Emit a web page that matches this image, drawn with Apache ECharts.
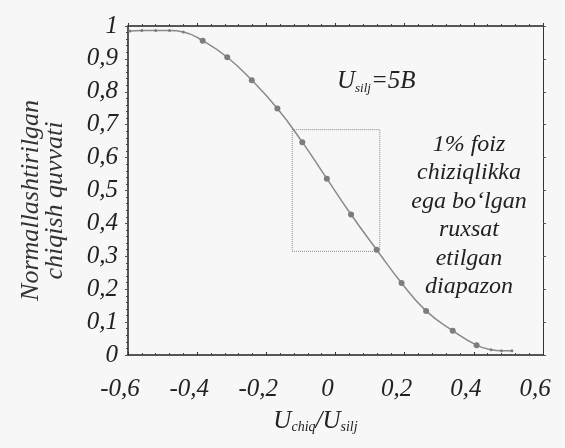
<!DOCTYPE html>
<html>
<head>
<meta charset="utf-8">
<script src="https://cdn.jsdelivr.net/npm/echarts@6/dist/echarts.min.js"></script>
<style>html,body{margin:0;padding:0;background:#f7f7f7}#c{width:565px;height:448px}</style>
</head>
<body>
<div id="c"></div>
<script>
// Data
const xValues = [-0.595, -0.56, -0.52, -0.48, -0.44, -0.384, -0.313, -0.242, -0.168, -0.096, -0.025, 0.045, 0.119, 0.191, 0.262, 0.339, 0.408, 0.45, 0.48, 0.51];
const yValues = [0.985, 0.986, 0.986, 0.986, 0.982, 0.955, 0.905, 0.835, 0.749, 0.647, 0.536, 0.427, 0.320, 0.219, 0.134, 0.074, 0.030, 0.016, 0.013, 0.013];
const boxX = [-0.125, 0.128];
const boxY = [0.315, 0.685];
const xTicks = [-0.6, -0.4, -0.2, 0, 0.2, 0.4, 0.6];
const yTicks = [0, 0.1, 0.2, 0.3, 0.4, 0.5, 0.6, 0.7, 0.8, 0.9, 1];

const FONT = 'Liberation Serif';
const fmt = v => String(Math.round(v * 10) / 10).replace('.', ',');
const chart = echarts.init(document.getElementById('c'));
const axisBase = {
  axisLine: { show: true, onZero: false, lineStyle: { color: '#222', width: 1.5 } },
  axisTick: { show: true, inside: true, length: 3, lineStyle: { color: '#333' } },
  minorTick: { show: true, splitNumber: 5, length: 2, lineStyle: { color: '#444' } },
  splitLine: { show: false }
};
chart.setOption({
  backgroundColor: '#f7f7f7',
  animation: false,
  grid: { left: 128, right: 22, top: 26, bottom: 93, containLabel: false, outerBoundsMode: 'none' },
  xAxis: [
    Object.assign({}, axisBase, {
      type: 'value', min: xTicks[0], max: xTicks[xTicks.length - 1], interval: 0.2,
      position: 'bottom',
      axisLabel: { formatter: fmt, fontFamily: FONT, fontStyle: 'italic', fontSize: 25, color: '#222', margin: 22, padding: [0, 16, 0, 0] },
      name: '{u|U}{s|chiq}{u|/U}{s|silj}', nameLocation: 'middle', nameGap: 53,
      nameTextStyle: { padding: [0, 40, 0, 0], rich: {
        u: { fontFamily: FONT, fontStyle: 'italic', fontSize: 25, color: '#222' },
        s: { fontFamily: FONT, fontStyle: 'italic', fontSize: 14, color: '#222', verticalAlign: 'bottom', padding: [12, 0, 0, 0] }
      } }
    }),
    Object.assign({}, axisBase, {
      type: 'value', min: xTicks[0], max: xTicks[xTicks.length - 1], interval: 0.2,
      position: 'top', axisLabel: { show: false },
      axisTick: { show: true, inside: false, length: 3, lineStyle: { color: '#333' } }
    })
  ],
  yAxis: [
    Object.assign({}, axisBase, {
      type: 'value', min: yTicks[0], max: yTicks[yTicks.length - 1], interval: 0.1,
      position: 'left',
      axisTick: { show: true, inside: false, length: 3, lineStyle: { color: '#555' } },
      axisLabel: { formatter: fmt, fontFamily: FONT, fontStyle: 'italic', fontSize: 25, color: '#222', margin: 10 },
      name: 'Normallashtirilgan\nchiqish quvvati', nameLocation: 'middle', nameGap: 61, nameRotate: 90,
      nameTextStyle: { fontFamily: FONT, fontStyle: 'italic', fontSize: 26, color: '#333', lineHeight: 24, padding: [0, 20, 0, 0] }
    }),
    Object.assign({}, axisBase, {
      type: 'value', min: yTicks[0], max: yTicks[yTicks.length - 1], interval: 0.1,
      position: 'right', axisLabel: { show: false },
      axisLine: { show: true, onZero: false, lineStyle: { color: '#333', width: 1 } },
      axisTick: { show: true, inside: false, length: 3, lineStyle: { color: '#555' } },
      minorTick: { show: false }
    })
  ],
  series: [{
    type: 'line',
    data: xValues.map((x, i) => [x, yValues[i]]),
    smooth: true,
    symbol: 'circle',
    symbolSize: (v, p) => (p.dataIndex >= 5 && p.dataIndex <= 16) ? 6 : 3,
    lineStyle: { color: '#8a8a8a', width: 1.5 },
    itemStyle: { color: '#7d7d7d' },
    markArea: {
      silent: true,
      itemStyle: { color: 'rgba(0,0,0,0)', borderColor: '#888', borderWidth: 1, borderType: 'dotted' },
      data: [[{ coord: [boxX[0], boxY[1]] }, { coord: [boxX[1], boxY[0]] }]]
    }
  }],
  graphic: [
    { type: 'text', x: 337, y: 68, style: {
      text: '{u|U}{s|silj}{u|=5B}', rich: {
        u: { fontFamily: FONT, fontStyle: 'italic', fontSize: 25, fill: '#222' },
        s: { fontFamily: FONT, fontStyle: 'italic', fontSize: 13, fill: '#222', padding: [14, 0, 0, 0] }
      } } },
    { type: 'text', x: 469, y: 130, style: {
      text: '1% foiz\nchiziqlikka\nega bo‘lgan\nruxsat\netilgan\ndiapazon',
      align: 'center', fontFamily: FONT, fontStyle: 'italic', fontSize: 24, lineHeight: 28.5, fill: '#222'
    } }
  ]
});
</script>
</body>
</html>
